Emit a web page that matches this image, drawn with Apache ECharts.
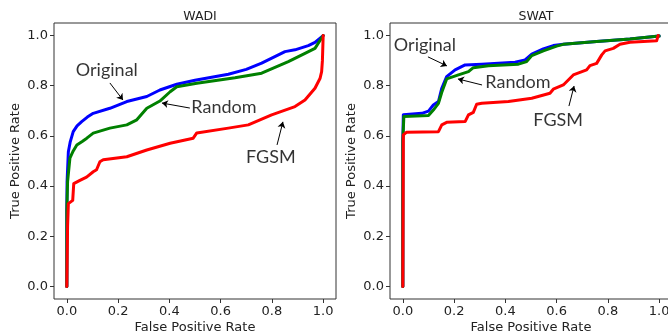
<!DOCTYPE html>
<html>
<head>
<meta charset="utf-8">
<script src="https://cdn.jsdelivr.net/npm/echarts@6/dist/echarts.min.js"></script>
<style>
  html, body { margin: 0; padding: 0; background: #fff; }
  #chart { width: 668px; height: 335px; }
</style>
</head>
<body>
<div id="chart"></div>
<script>
// ROC curves, [FPR, TPR]
const wadiOriginal = [[0,0],[0,0.3],[0.001,0.418],[0.006,0.537],[0.013,0.575],[0.025,0.617],[0.04,0.64],[0.058,0.657],[0.08,0.675],[0.103,0.69],[0.168,0.71],[0.234,0.737],[0.312,0.757],[0.363,0.783],[0.429,0.806],[0.5,0.822],[0.63,0.846],[0.7,0.865],[0.76,0.89],[0.851,0.936],[0.89,0.943],[0.942,0.96],[0.968,0.973],[1,1]];
const wadiRandom = [[0,0],[0,0.3],[0.003,0.418],[0.012,0.511],[0.025,0.54],[0.039,0.564],[0.06,0.578],[0.078,0.591],[0.103,0.611],[0.168,0.631],[0.234,0.644],[0.273,0.664],[0.312,0.71],[0.363,0.739],[0.403,0.776],[0.429,0.796],[0.507,0.81],[0.656,0.832],[0.76,0.85],[0.864,0.896],[0.929,0.929],[0.968,0.949],[1,1]];
const wadiFgsm = [[0,0],[0.003,0.24],[0.006,0.33],[0.023,0.343],[0.027,0.41],[0.051,0.423],[0.077,0.436],[0.103,0.457],[0.116,0.465],[0.129,0.497],[0.142,0.505],[0.234,0.517],[0.312,0.544],[0.403,0.571],[0.493,0.591],[0.507,0.612],[0.63,0.631],[0.708,0.644],[0.799,0.684],[0.89,0.717],[0.929,0.743],[0.968,0.79],[0.988,0.83],[0.994,0.856],[0.997,0.9],[1,1]];

const swatOriginal = [[0,0],[0,0.58],[0.002,0.684],[0.074,0.69],[0.1,0.699],[0.119,0.723],[0.139,0.737],[0.152,0.79],[0.171,0.836],[0.204,0.863],[0.243,0.883],[0.308,0.886],[0.438,0.894],[0.477,0.903],[0.503,0.926],[0.548,0.947],[0.587,0.96],[0.626,0.965],[0.756,0.976],[0.886,0.986],[1,0.998]];
const swatRandom = [[0,0],[0,0.58],[0.004,0.677],[0.1,0.681],[0.119,0.703],[0.139,0.73],[0.152,0.774],[0.171,0.827],[0.217,0.843],[0.256,0.856],[0.275,0.872],[0.334,0.88],[0.451,0.886],[0.483,0.896],[0.503,0.92],[0.548,0.939],[0.6,0.958],[0.626,0.965],[0.756,0.976],[0.886,0.986],[1,0.998]];
const swatFgsm = [[0,0],[0.002,0.604],[0.015,0.615],[0.139,0.617],[0.152,0.644],[0.171,0.654],[0.243,0.657],[0.256,0.684],[0.275,0.694],[0.288,0.726],[0.308,0.73],[0.412,0.737],[0.503,0.75],[0.574,0.77],[0.587,0.786],[0.626,0.803],[0.665,0.843],[0.717,0.863],[0.73,0.88],[0.756,0.889],[0.776,0.923],[0.789,0.939],[0.821,0.949],[0.847,0.965],[0.886,0.973],[0.99,0.979],[0.996,1]];

const tickValues = [0, 0.2, 0.4, 0.6, 0.8, 1.0];
const panelTitles = ['WADI', 'SWAT'];
const seriesNames = ['Original', 'Random', 'FGSM'];
const seriesColors = ['#0000ff', '#008000', '#ff0000'];

// annotation text anchors and arrows, in data coordinates
const wadiNotes = [['Original', 0.156, 0.863], ['Random', 0.613, 0.715], ['FGSM', 0.796, 0.517]];
const wadiArrows = [[[0.168, 0.811], [0.219, 0.743]], [[0.48, 0.711], [0.371, 0.731]], [[0.82, 0.564], [0.843, 0.656]]];
const swatNotes = [['Original', 0.086, 0.963], ['Random', 0.449, 0.815], ['FGSM', 0.606, 0.663]];
const swatArrows = [[[0.098, 0.915], [0.172, 0.879]], [[0.309, 0.803], [0.215, 0.827]], [[0.648, 0.719], [0.668, 0.799]]];

const panels = [
  { curves: [wadiOriginal, wadiRandom, wadiFgsm], notes: wadiNotes, arrows: wadiArrows, left: 54 },
  { curves: [swatOriginal, swatRandom, swatFgsm], notes: swatNotes, arrows: swatArrows, left: 390 },
];

const TEXT = '#222';
const TICK_FONT = 'DejaVu Sans';
const GRID_W = 282;
const GRID_H = 276;
const GRID_TOP = 23;

const chart = echarts.init(document.getElementById('chart'), null, { renderer: 'canvas' });

const axisCommon = {
  type: 'value',
  min: -0.05,
  max: 1.05,
  // the frame comes from the grid border; keep the axes on the frame, not at zero
  axisLine: { show: false, onZero: false },
  splitLine: { show: false },
  axisTick: { show: true, inside: false, length: 4, customValues: tickValues, lineStyle: { color: '#333', width: 1 } },
  axisLabel: {
    customValues: tickValues,
    formatter: (v) => v.toFixed(1),
    color: TEXT,
    fontFamily: TICK_FONT,
    fontSize: 13,
    margin: 6,
  },
  nameLocation: 'middle',
  nameMoveOverlap: false,
  nameTextStyle: { color: TEXT, fontFamily: TICK_FONT, fontSize: 13 },
};

const grids = [];
const xAxes = [];
const yAxes = [];
const titles = [];
const series = [];

panels.forEach((p, i) => {
  // fixed plot boxes; the right panel runs past the canvas edge as in the source
  grids.push({
    left: p.left, top: GRID_TOP, width: GRID_W, height: GRID_H,
    outerBoundsMode: 'none', containLabel: false,
    show: true, borderColor: '#333', borderWidth: 1, backgroundColor: 'transparent',
  });
  xAxes.push({ ...axisCommon, gridIndex: i, name: 'False Positive Rate', nameGap: 22 });
  yAxes.push({ ...axisCommon, gridIndex: i, name: 'True Positive Rate', nameGap: 32 });
  titles.push({
    text: panelTitles[i], left: p.left + GRID_W / 2, top: 5, textAlign: 'center',
    textStyle: { color: TEXT, fontFamily: TICK_FONT, fontSize: 12.5, fontWeight: 'normal' },
  });

  p.curves.forEach((data, k) => {
    series.push({
      name: seriesNames[k],
      type: 'line',
      xAxisIndex: i,
      yAxisIndex: i,
      data,
      showSymbol: false,
      symbol: 'none',
      smooth: false,
      lineStyle: { color: seriesColors[k], width: 3, join: 'round', cap: 'round' },
      z: 2 + k,
    });
  });

  // annotation labels
  series.push({
    type: 'scatter',
    xAxisIndex: i,
    yAxisIndex: i,
    symbolSize: 0.1,
    itemStyle: { color: 'transparent' },
    silent: true,
    z: 10,
    data: p.notes.map(([name, x, y]) => ({ name, value: [x, y] })),
    label: {
      show: true,
      position: 'inside',
      formatter: (d) => d.name,
      color: '#000',
      fontFamily: 'Lato',
      fontSize: 18,
    },
  });

  // annotation arrows
  series.push({
    type: 'lines',
    coordinateSystem: 'cartesian2d',
    xAxisIndex: i,
    yAxisIndex: i,
    silent: true,
    z: 11,
    symbol: ['none', 'arrow'],
    symbolSize: 6,
    lineStyle: { color: '#000', width: 1, opacity: 1, curveness: 0 },
    itemStyle: { color: '#000' },
    data: p.arrows.map(([a, b]) => ({ coords: [a, b] })),
  });
});

chart.setOption({
  animation: false,
  backgroundColor: '#fff',
  title: titles,
  grid: grids,
  xAxis: xAxes,
  yAxis: yAxes,
  series,
});
</script>
</body>
</html>
